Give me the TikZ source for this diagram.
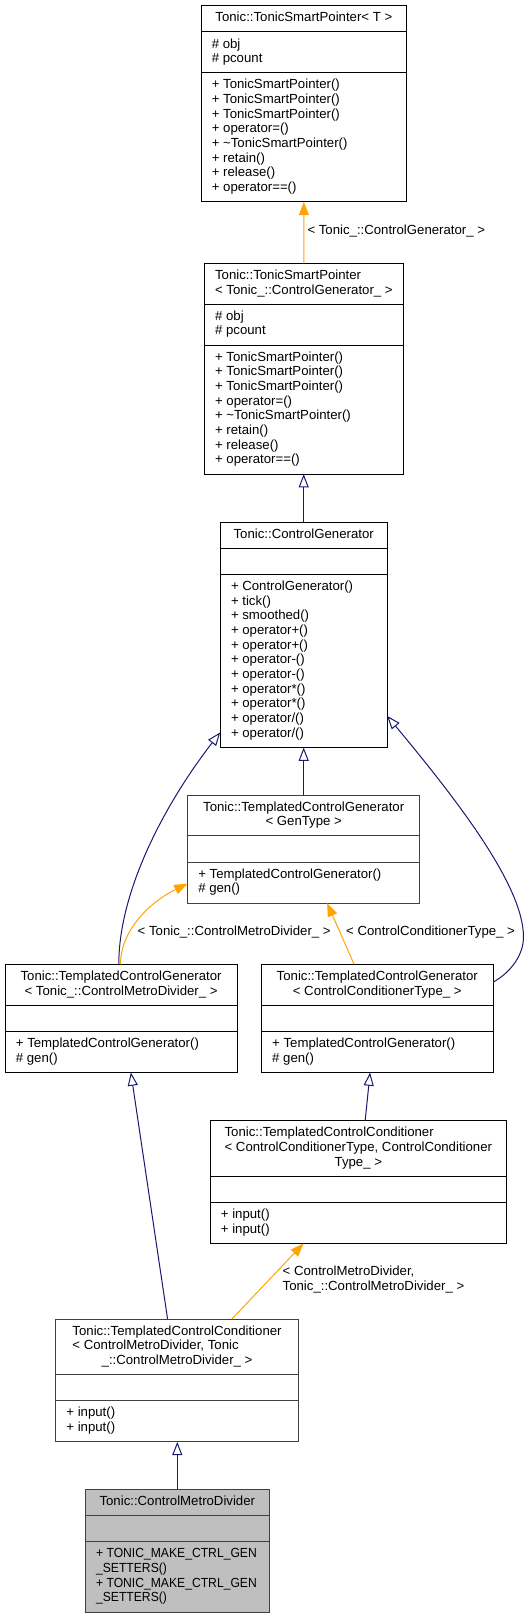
\documentclass[tikz,border=0pt]{standalone}
\usepackage{fontspec}
\setmainfont{Liberation Sans}
\newfontfamily\capsnarrow[FakeStretch=0.92]{Liberation Sans}
\usetikzlibrary{arrows.meta, calc, shapes.multipart}

\definecolor{edgeblue}{HTML}{191970}
\definecolor{edgeorange}{HTML}{FFA500}
\definecolor{rootfill}{HTML}{BFBFBF}
\definecolor{boxline}{HTML}{404040}

\newcommand{\ltab}[1]{\begin{tabular}{@{}l@{}}#1\end{tabular}}
\newcommand{\ctab}[1]{\begin{tabular}{@{}c@{}}#1\end{tabular}}
\newcommand{\cen}[1]{\multicolumn{1}{@{}c@{}}{#1}}

\tikzset{
  cls/.style={rectangle split, rectangle split parts=3, rectangle split part align={center,left,left},
    draw=black, line width=1pt, fill=white, anchor=north west, outer sep=0pt,
    inner xsep=10.8pt, inner ysep=5.3pt, font=\fontsize{13.2}{14.67}\selectfont},
  clsgray/.style={cls, draw=boxline},
  root/.style={cls, draw=boxline, fill=rootfill},
  lbl/.style={anchor=west, inner sep=0pt, font=\fontsize{13.2}{14.67}\selectfont},
  inherit/.style={draw=edgeblue, line width=1pt, -{Triangle[open, length=13.3pt, width=10pt]}},
  templ/.style={draw=edgeorange, line width=1pt, -{Triangle[length=13.3pt, width=10pt]}}
}

\begin{document}
\begin{tikzpicture}[x=1pt, y=-1pt]
  \useasboundingbox (0,0) rectangle (529,1616);

  % classes
  \node[cls, minimum width=205.7pt] (sp) at (201,5.7) {\ctab{Tonic::TonicSmartPointer< T >}
    \nodepart{second}\ltab{\# obj\\ \# pcount}
    \nodepart{third}\ltab{+ TonicSmartPointer()\\ + TonicSmartPointer()\\ + TonicSmartPointer()\\ + operator=()\\ + \textasciitilde TonicSmartPointer()\\ + retain()\\ + release()\\ + operator==()}};
  \node[cls, minimum width=199pt] (spcg) at (204.3,263.3) {\ltab{Tonic::TonicSmartPointer\\ < Tonic\_::ControlGenerator\_ >}
    \nodepart{second}\ltab{\# obj\\ \# pcount}
    \nodepart{third}\ltab{+ TonicSmartPointer()\\ + TonicSmartPointer()\\ + TonicSmartPointer()\\ + operator=()\\ + \textasciitilde TonicSmartPointer()\\ + retain()\\ + release()\\ + operator==()}};
  \node[cls, minimum width=167pt] (cg) at (220.2,522) {\ctab{Tonic::ControlGenerator}
    \nodepart{second}\strut
    \nodepart{third}\ltab{+ ControlGenerator()\\ + tick()\\ + smoothed()\\ + operator+()\\ + operator+()\\ + operator-()\\ + operator-()\\ + operator*()\\ + operator*()\\ + operator/()\\ + operator/()}};
  \node[clsgray, minimum width=232.4pt] (tcg) at (187.5,795) {\ctab{Tonic::TemplatedControlGenerator\\ < GenType >}
    \nodepart{second}\strut
    \nodepart{third}\ltab{+ TemplatedControlGenerator()\\ \# gen()}};
  \node[cls, minimum width=232pt] (tcgmd) at (5.1,964.3) {\ctab{Tonic::TemplatedControlGenerator\\ < Tonic\_::ControlMetroDivider\_ >}
    \nodepart{second}\strut
    \nodepart{third}\ltab{+ TemplatedControlGenerator()\\ \# gen()}};
  \node[cls, minimum width=231.7pt] (tcgcc) at (261.4,964.3) {\ctab{Tonic::TemplatedControlGenerator\\ < ControlConditionerType\_ >}
    \nodepart{second}\strut
    \nodepart{third}\ltab{+ TemplatedControlGenerator()\\ \# gen()}};
  \node[cls, minimum width=296.5pt] (tcccc) at (210.1,1120.7) {\ltab{Tonic::TemplatedControlConditioner\\ < ControlConditionerType, ControlConditioner\\ \cen{Type\_ >}}
    \nodepart{second}\strut
    \nodepart{third}\ltab{+ input()\\ + input()}};
  \node[clsgray, minimum width=242.9pt] (tccmd) at (55.6,1319) {\ltab{Tonic::TemplatedControlConditioner\\ < ControlMetroDivider, Tonic\\ \cen{\_::ControlMetroDivider\_ >}}
    \nodepart{second}\strut
    \nodepart{third}\ltab{+ input()\\ + input()}};
  \node[root, minimum width=184pt] (cmd) at (85.3,1489.3) {\ctab{Tonic::ControlMetroDivider}
    \nodepart{second}\strut
    \nodepart{third}\capsnarrow\ltab{+ TONIC\_MAKE\_CTRL\_GEN\\ \_SETTERS()\\ + TONIC\_MAKE\_CTRL\_GEN\\ \_SETTERS()}};

  % edges
  \draw[templ] (spcg.north) -- (sp.south);
  \node[lbl] (lcg) at (307.3,231) {< Tonic\_::ControlGenerator\_ >};
  \draw[inherit] (cg.north) -- (cg.north |- spcg.south);
  \draw[inherit] (tcg.north) -- (tcg.north |- cg.south);
  \draw[inherit] ($(tcgmd.north west)!0.49!(tcgmd.north east)$) .. controls +(0,-74) and +(-55,71) .. ($(cg.north west)!0.933!(cg.south west)$);
  \coordinate (bend) at (523.5,937);
  \draw[inherit] ($(tcgcc.north east)!0.165!(tcgcc.south east)$) .. controls +(18,-10) and +(0,17.7) .. (bend) .. controls +(0,-52) and +(68,82) .. ($(cg.north east)!0.86!(cg.south east)$);
  \draw[templ] ($(tcgmd.north west)!0.4975!(tcgmd.north east)$) .. controls +(0,-34) and +(-37.5,18.3) .. ($(tcg.north west)!0.82!(tcg.south west)$);
  \node[lbl] (lmd) at (137.5,931.7) {< Tonic\_::ControlMetroDivider\_ >};
  \draw[templ] ($(tcgcc.north west)!0.4!(tcgcc.north east)$) -- ($(tcg.south west)!0.601!(tcg.south east)$);
  \node[lbl] (lcc) at (346,931.7) {< ControlConditionerType\_ >};
  \draw[inherit] ($(tcccc.north west)!0.523!(tcccc.north east)$) -- ($(tcgcc.south west)!0.469!(tcgcc.south east)$);
  \draw[inherit] ($(tccmd.north west)!0.461!(tccmd.north east)$) -- ($(tcgmd.south west)!0.542!(tcgmd.south east)$);
  \draw[templ] ($(tccmd.north west)!0.726!(tccmd.north east)$) -- ($(tcccc.south west)!0.315!(tcccc.south east)$);
  \node[lbl, align=left] (lcm) at (282.5,1279.2) {< ControlMetroDivider,\\ Tonic\_::ControlMetroDivider\_ >};
  \draw[inherit] (cmd.north) -- (cmd.north |- tccmd.south);
\end{tikzpicture}
\end{document}
